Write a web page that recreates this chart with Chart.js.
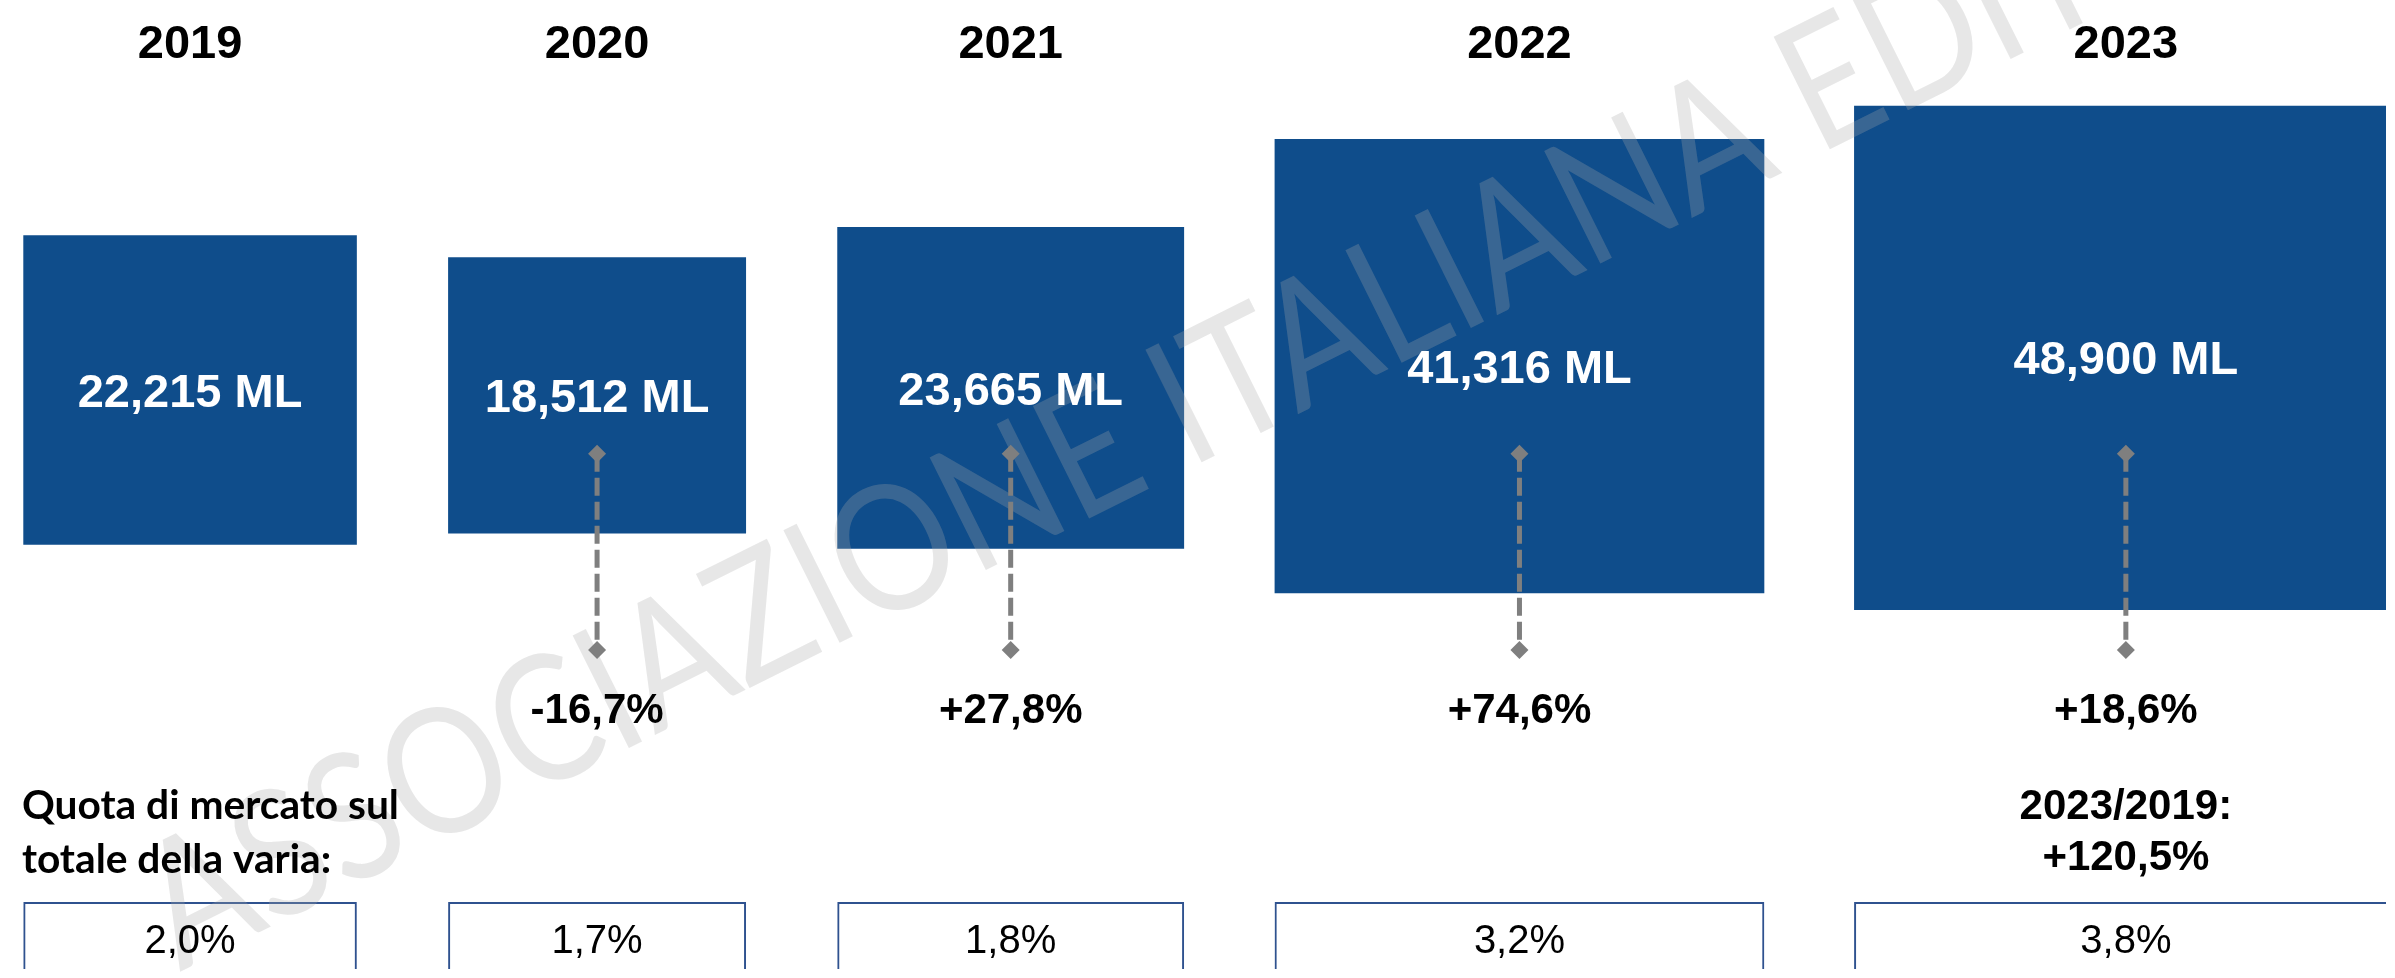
<!DOCTYPE html>
<html>
<head>
<meta charset="utf-8">
<style>
  html, body { margin: 0; padding: 0; background: #ffffff; overflow: hidden; }
  #c { display: block; }
</style>
<script src="https://cdn.jsdelivr.net/npm/chart.js@4.4.1/dist/chart.umd.min.js"></script>
</head>
<body>
<canvas id="c" width="2395" height="978"></canvas>
<script>
// ---------------- data ----------------
const years = ['2019', '2020', '2021', '2022', '2023'];
const valuesML = [22215, 18512, 23665, 41316, 48900];          // sales, ML
const changePct = [null, -16.7, 27.8, 74.6, 18.6];             // year-on-year change, %
const marketSharePct = [2.0, 1.7, 1.8, 3.2, 3.8];              // share of "varia", %
const totalChangePct = 120.5;                                  // 2023 vs 2019, %
const shareTitleLines = ['Quota di mercato sul', 'totale della varia:'];
const watermarkText = 'ASSOCIAZIONE ITALIANA EDITORI';

// ---------------- formatting ----------------
const itPct = (v, sign) => (sign && v > 0 ? '+' : '') + v.toFixed(1).replace('.', ',') + '%';
const valueLabels = valuesML.map(v => v.toLocaleString('en-US') + ' ML');
const changeLabels = changePct.map(v => v === null ? null : itPct(v, true));
const shareLabels = marketSharePct.map(v => itPct(v, false));
const totalTitle = years[years.length - 1] + '/' + years[0] + ':';
const totalLabel = itPct(totalChangePct, true);

// ---------------- layout (scale units) ----------------
const X_MAX = 2395, Y_MAX = 978;
const SIZE_EXP = 0.62, KW = 0.672, KH = 0.635;   // box side grows as value^0.62
const LEFT = 16, GAP = 95;
const ANCHOR_Y = 440, ANCHOR_FRAC = 0.665;
const ARROW_TOP = 453, ARROW_BOTTOM = 653;
const SHARE_TOP = 910;
const BLUE = '#0F4D8B', BORDER_BLUE = '#2F528F', GREY = '#7F7F7F';

const boxes = [];
let cursor = LEFT;
valuesML.forEach(v => {
  const s = Math.pow(v, SIZE_EXP);
  const w = KW * s, h = KH * s;
  boxes.push({ cx: cursor + w / 2, w, top: ANCHOR_Y - ANCHOR_FRAC * h, bottom: ANCHOR_Y + (1 - ANCHOR_FRAC) * h });
  cursor += w + GAP;
});

const datasets = [];
years.forEach((y, i) => {
  datasets.push({
    type: 'bar', label: 'value ' + y,
    data: [{ x: boxes[i].cx, y: [boxes[i].top, boxes[i].bottom] }],
    barThickness: boxes[i].w, grouped: false,
    backgroundColor: BLUE, borderWidth: 0, order: 2
  });
  datasets.push({
    type: 'bar', label: 'share ' + y,
    data: [{ x: boxes[i].cx, y: [SHARE_TOP, Y_MAX + 30] }],
    barThickness: boxes[i].w, grouped: false,
    backgroundColor: '#ffffff', borderColor: BORDER_BLUE, borderWidth: 2, borderSkipped: false, order: 3
  });
});
changePct.forEach((c, i) => {
  if (c === null) return;
  datasets.push({
    type: 'line', label: 'arrow ' + years[i],
    data: [{ x: boxes[i].cx, y: ARROW_TOP }, { x: boxes[i].cx, y: ARROW_BOTTOM }],
    borderColor: GREY, borderWidth: 5, borderDash: [18, 6], borderCapStyle: 'butt',
    pointStyle: 'rectRot', pointRadius: 9, pointHoverRadius: 9,
    pointBackgroundColor: GREY, pointBorderColor: GREY, pointBorderWidth: 0,
    fill: false, order: 1
  });
});

// ---------------- overlay plugin ----------------
function drawWatermark(chart) {
  const ctx = chart.ctx;
  const xs = chart.scales.x, ys = chart.scales.y;
  const HS = 0.86;
  ctx.save();
  const ref = 'ASSOCIAZIONE ITALIANA ';
  ctx.font = '400 100px Lato, "Open Sans", sans-serif';
  const size = 100 * 1830 / (ctx.measureText(ref).width * HS);
  ctx.font = '400 ' + size.toFixed(1) + 'px Lato, "Open Sans", sans-serif';
  ctx.translate(xs.getPixelForValue(172), ys.getPixelForValue(981));
  ctx.rotate(-26.5 * Math.PI / 180);
  ctx.scale(HS, 1);
  ctx.fillStyle = 'rgba(168,168,168,0.28)';
  ctx.textAlign = 'left';
  ctx.textBaseline = 'alphabetic';
  ctx.fillText(watermarkText, 0, 0);
  ctx.restore();
}

function drawLabels(chart) {
  const ctx = chart.ctx;
  const xs = chart.scales.x, ys = chart.scales.y;
  const ARIAL = '"Liberation Sans", Arial, sans-serif';
  ctx.save();
  ctx.textBaseline = 'alphabetic';
  ctx.textAlign = 'center';
  boxes.forEach((b, i) => {
    const x = xs.getPixelForValue(b.cx);
    ctx.fillStyle = '#000000';
    ctx.font = 'bold 47px ' + ARIAL;
    ctx.fillText(years[i], x, ys.getPixelForValue(50));
    ctx.fillStyle = '#ffffff';
    ctx.fillText(valueLabels[i], x, ys.getPixelForValue((b.top + b.bottom) / 2 + 17));
    ctx.fillStyle = '#000000';
    if (changeLabels[i]) {
      ctx.font = 'bold 42px ' + ARIAL;
      ctx.fillText(changeLabels[i], x, ys.getPixelForValue(727));
    }
    ctx.font = '40px ' + ARIAL;
    ctx.fillText(shareLabels[i], x, ys.getPixelForValue(962));
  });
  const last = boxes[boxes.length - 1];
  ctx.font = 'bold 42px ' + ARIAL;
  ctx.fillText(totalTitle, xs.getPixelForValue(last.cx), ys.getPixelForValue(825));
  ctx.fillText(totalLabel, xs.getPixelForValue(last.cx), ys.getPixelForValue(877));
  ctx.textAlign = 'left';
  ctx.font = 'bold 100px Lato, "Open Sans", sans-serif';
  const fs = 100 * 377 / ctx.measureText(shareTitleLines[0]).width;
  ctx.font = 'bold ' + fs.toFixed(1) + 'px Lato, "Open Sans", sans-serif';
  ctx.fillText(shareTitleLines[0], xs.getPixelForValue(13), ys.getPixelForValue(825));
  ctx.fillText(shareTitleLines[1], xs.getPixelForValue(13), ys.getPixelForValue(880));
  ctx.restore();
}

const overlay = {
  id: 'overlay',
  beforeDatasetsDraw(chart) { chart.$wmDone = false; },
  beforeDatasetDraw(chart, args) {
    const ds = chart.data.datasets[args.index];
    if (!chart.$wmDone && ds.label.startsWith('arrow')) { drawWatermark(chart); chart.$wmDone = true; }
  },
  afterDatasetsDraw(chart) {
    if (!chart.$wmDone) { drawWatermark(chart); chart.$wmDone = true; }
    drawLabels(chart);
  }
};

new Chart(document.getElementById('c'), {
  type: 'bar',
  data: { datasets },
  options: {
    responsive: false,
    devicePixelRatio: 1,
    animation: false,
    layout: { padding: 0 },
    plugins: { legend: { display: false }, tooltip: { enabled: false } },
    scales: {
      x: { type: 'linear', min: 0, max: X_MAX, offset: false, display: false },
      y: { type: 'linear', min: 0, max: Y_MAX, reverse: true, display: false }
    }
  },
  plugins: [overlay]
});
</script>
</body>
</html>
